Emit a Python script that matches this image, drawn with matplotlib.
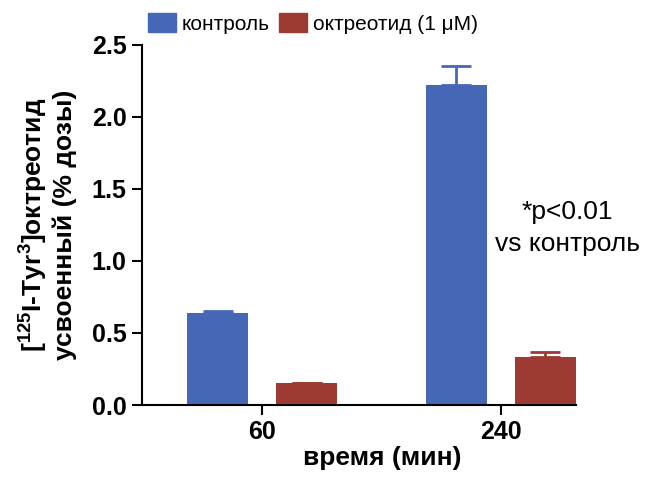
import numpy as np
import matplotlib.pyplot as plt
from matplotlib.patches import Patch

plt.rcParams['font.family'] = ['Liberation Sans', 'DejaVu Sans']
plt.rcParams['mathtext.fontset'] = 'custom'
plt.rcParams['mathtext.rm'] = 'Liberation Sans:bold'
plt.rcParams['mathtext.bf'] = 'Liberation Sans:bold'

# data
times = ['60', '240']
control = [0.64, 2.22]
control_err = [0.01, 0.135]
octreotide = [0.15, 0.333]
octreotide_err = [0.005, 0.035]

blue = '#4666b6'
red = '#9e3a34'

fig = plt.figure(figsize=(6.61, 4.78), dpi=100)
ax = fig.add_axes([0.2148, 0.1527, 0.871 - 0.2148, 0.906 - 0.1527])

x = np.arange(len(times))
w = 0.256
off = 0.187
ax.bar(x - off, control, w, color=blue)
ax.bar(x + off, octreotide, w, color=red)
ax.errorbar(x - off, control, yerr=[np.zeros(2), control_err], fmt='none',
            ecolor=blue, elinewidth=2, capsize=11, capthick=2)
ax.errorbar(x + off, octreotide, yerr=[np.zeros(2), octreotide_err], fmt='none',
            ecolor=red, elinewidth=2, capsize=11, capthick=2)

ax.set_xlim(-0.504, x[-1] + off + w / 2)
ax.set_ylim(0, 2.5)
ax.set_yticks([0, 0.5, 1.0, 1.5, 2.0, 2.5])
ax.set_yticklabels(['0.0', '0.5', '1.0', '1.5', '2.0', '2.5'])
ax.set_xticks(x)
ax.set_xticklabels(times)
for lab in ax.get_xticklabels() + ax.get_yticklabels():
    lab.set_fontweight('bold')
    lab.set_fontsize(18)
ax.tick_params(direction='out', length=7, width=1.5, color='black', pad=4)

for s in ['top', 'right']:
    ax.spines[s].set_visible(False)
for s in ['left', 'bottom']:
    ax.spines[s].set_linewidth(1.5)

ax.set_xlabel('время (мин)', fontsize=19, fontweight='bold', labelpad=2)
ax.xaxis.set_label_coords(0.555, -0.115)
ax.set_ylabel('[$^{125}$I-Tyr$^{3}$]октреотид\nусвоенный (% дозы)',
              fontsize=19, fontweight='bold', labelpad=11, linespacing=1.15)

ax.text(1.28, 1.23, '*p<0.01\nvs контроль', fontsize=19, ha='center', va='center',
        linespacing=1.45, clip_on=False)

handles = [Patch(color=blue, label='контроль'), Patch(color=red, label='октреотид (1 μM)')]
fig.legend(handles=handles, loc='upper left', bbox_to_anchor=(0.2239, 0.972), ncol=2,
           frameon=False, fontsize=15, handlelength=1.33, handleheight=1.0,
           handletextpad=0.3, columnspacing=0.45, borderaxespad=0, borderpad=0)

fig.savefig('out.png', dpi=100)
